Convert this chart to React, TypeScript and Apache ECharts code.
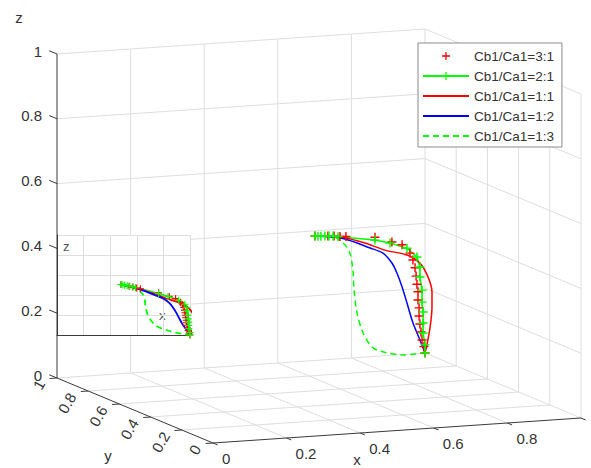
import { useEffect, useRef } from 'react';
import * as echarts from 'echarts';

const WIDTH = 591;
const HEIGHT = 468;

const FONT = '"Liberation Sans", Arial, Helvetica, sans-serif';
const GRID_COLOR = '#dedede';
const AXIS_COLOR = '#3a3a3a';
const TEXT_COLOR = '#333333';

const SERIES_NAMES = ['Cb1/Ca1=3:1', 'Cb1/Ca1=2:1', 'Cb1/Ca1=1:1', 'Cb1/Ca1=1:2', 'Cb1/Ca1=1:3'];

// Every curve runs in the diagonal plane x = y: *_XY is the shared x/y value, *_Z the height.
const R31_XY = [0.481, 0.542, 0.571, 0.599, 0.627, 0.764, 0.844, 0.892, 0.929, 0.943, 0.953, 0.958, 0.962, 0.967, 0.967, 0.972, 0.972, 0.976, 0.981, 0.986, 0.995, 1.0];
const R31_Z = [0.505, 0.488, 0.480, 0.471, 0.463, 0.423, 0.386, 0.364, 0.328, 0.303, 0.276, 0.249, 0.223, 0.198, 0.173, 0.147, 0.122, 0.096, 0.070, 0.044, 0.021, 0];

const R21_XY = [0.481, 0.495, 0.509, 0.528, 0.547, 0.566, 0.590, 0.764, 0.835, 0.915, 0.962, 0.976, 0.976, 0.986, 0.986, 0.991, 0.991, 0.991, 1.0, 1.0];
const R21_Z = [0.505, 0.501, 0.497, 0.492, 0.487, 0.482, 0.473, 0.414, 0.385, 0.347, 0.307, 0.272, 0.241, 0.198, 0.161, 0.129, 0.095, 0.064, 0.025, 0];

const R11_XY = [0.481, 0.623, 0.717, 0.811, 0.915, 0.976, 1.014, 1.033, 1.033, 1.024, 1.009, 1.0];
const R11_Z = [0.505, 0.460, 0.418, 0.370, 0.326, 0.284, 0.231, 0.179, 0.133, 0.073, 0.022, 0];

const R12_XY = [0.481, 0.613, 0.741, 0.802, 0.844, 0.868, 0.892, 0.915, 0.943, 0.976, 1.0];
const R12_Z = [0.505, 0.461, 0.396, 0.363, 0.321, 0.283, 0.234, 0.178, 0.109, 0.047, 0];

const R13_XY = [0.481, 0.575, 0.623, 0.646, 0.660, 0.665, 0.679, 0.708, 0.755, 0.821, 0.896, 1.0];
const R13_Z = [0.505, 0.475, 0.438, 0.406, 0.350, 0.290, 0.214, 0.143, 0.084, 0.050, 0.023, 0];

const X_TICKS = [0, 0.2, 0.4, 0.6, 0.8, 1];
const X_TICK_LABELS = ['0', '0.2', '0.4', '0.6', '0.8', ''];
const Y_TICKS = [0, 0.2, 0.4, 0.6, 0.8, 1];
const Y_TICK_LABELS = ['0', '0.2', '0.4', '0.6', '0.8', '1'];
const Z_TICKS = [0, 0.2, 0.4, 0.6, 0.8, 1];
const Z_TICK_LABELS = ['0', '0.2', '0.4', '0.6', '0.8', '1'];

// Orthographic view: screen position of the origin and screen step of one unit along x, y, z.
const VIEW_ORIGIN = [213, 443];
const VIEW_X = [368, -25];
const VIEW_Y = [-156, -65];
const VIEW_Z = [0, -324];

function project(x: number, y: number, z: number): [number, number] {
  return [
    VIEW_ORIGIN[0] + x * VIEW_X[0] + y * VIEW_Y[0] + z * VIEW_Z[0],
    VIEW_ORIGIN[1] + x * VIEW_X[1] + y * VIEW_Y[1] + z * VIEW_Z[1],
  ];
}

// "+" marker as a filled outline
const PLUS = 'path://M4.2,0h1.6v4.2h4.2v1.6h-4.2v4.2h-1.6v-4.2h-4.2v-1.6h4.2z';

type Seg = [number, number, number, number, number];
function seg(a: number[], b: number[], kind: number): Seg {
  const p = project(a[0], a[1], a[2]);
  const q = project(b[0], b[1], b[2]);
  return [p[0], p[1], q[0], q[1], kind];
}

function buildBox(): Seg[] {
  const s: Seg[] = [];
  // floor grid (z = 0)
  X_TICKS.slice(1).forEach((x) => s.push(seg([x, 0, 0], [x, 1, 0], 0)));
  Y_TICKS.slice(1).forEach((y) => s.push(seg([0, y, 0], [1, y, 0], 0)));
  // back wall (y = 1)
  X_TICKS.slice(1).forEach((x) => s.push(seg([x, 1, 0], [x, 1, 1], 0)));
  Z_TICKS.slice(1).forEach((z) => s.push(seg([0, 1, z], [1, 1, z], 0)));
  // side wall (x = 1)
  Y_TICKS.slice(0, -1).forEach((y) => s.push(seg([1, y, 0], [1, y, 1], 0)));
  Z_TICKS.slice(1).forEach((z) => s.push(seg([1, 0, z], [1, 1, z], 0)));
  // axis lines
  s.push(seg([0, 0, 0], [1, 0, 0], 1));
  s.push(seg([0, 0, 0], [0, 1, 0], 1));
  s.push(seg([0, 1, 0], [0, 1, 1], 1));
  // tick marks
  X_TICKS.forEach((x) => s.push(seg([x, 0, 0], [x, -0.03, 0], 1)));
  Y_TICKS.forEach((y) => s.push(seg([0, y, 0], [-0.02, y, 0], 1)));
  Z_TICKS.forEach((z) => s.push(seg([0, 1, z], [0, 1.05, z], 1)));
  return s;
}

interface Label {
  at: [number, number, number];
  text: string;
  dx: number;
  dy: number;
  align: 'left' | 'right' | 'center';
  rotate: number;
  size: number;
}

function buildLabels(): Label[] {
  const l: Label[] = [];
  X_TICKS.forEach((x, i) =>
    l.push({ at: [x, 0, 0], text: X_TICK_LABELS[i], dx: 9, dy: 15, align: 'left', rotate: 0, size: 15 })
  );
  Y_TICKS.forEach((y, i) =>
    l.push({ at: [0, y, 0], text: Y_TICK_LABELS[i], dx: -16, dy: 3, align: 'right', rotate: 60, size: 15 })
  );
  Z_TICKS.forEach((z, i) =>
    l.push({ at: [0, 1, z], text: Z_TICK_LABELS[i], dx: -15, dy: -3, align: 'right', rotate: 0, size: 15 })
  );
  l.push({ at: [0.5, 0, 0], text: 'x', dx: -40, dy: 29, align: 'center', rotate: 0, size: 15 });
  l.push({ at: [0, 0.5, 0], text: 'y', dx: -27, dy: 45, align: 'center', rotate: 0, size: 15 });
  l.push({ at: [0, 1, 1], text: 'z', dx: -38, dy: -37, align: 'center', rotate: 0, size: 15 });
  return l;
}

interface CurveDef {
  name: string;
  xy: number[];
  z: number[];
  color: string;
  markers: boolean;
  line: boolean;
  dashed: boolean;
}

const CURVES: CurveDef[] = [
  { name: SERIES_NAMES[0], xy: R31_XY, z: R31_Z, color: '#ff0000', markers: true, line: false, dashed: false },
  { name: SERIES_NAMES[1], xy: R21_XY, z: R21_Z, color: '#00ff00', markers: true, line: true, dashed: false },
  { name: SERIES_NAMES[2], xy: R11_XY, z: R11_Z, color: '#ff0000', markers: false, line: true, dashed: false },
  { name: SERIES_NAMES[3], xy: R12_XY, z: R12_Z, color: '#0000ff', markers: false, line: true, dashed: false },
  { name: SERIES_NAMES[4], xy: R13_XY, z: R13_Z, color: '#00ff00', markers: false, line: true, dashed: true },
];

function curveSeries(c: CurveDef, inset: boolean) {
  const data = inset
    ? c.xy.map((t, i) => [t, c.z[i]])
    : c.xy.map((t, i) => project(t, t, c.z[i]));
  return {
    name: c.name,
    type: 'line',
    xAxisIndex: inset ? 1 : 0,
    yAxisIndex: inset ? 1 : 0,
    data,
    symbol: c.markers ? PLUS : 'none',
    symbolSize: inset ? 7 : 9,
    showSymbol: c.markers,
    smooth: c.markers ? 0 : 0.3,
    clip: false,
    silent: true,
    z: 3,
    itemStyle: { color: c.color },
    lineStyle: {
      color: c.color,
      width: inset ? 1.8 : 1.5,
      opacity: c.line ? 1 : 0,
      type: c.dashed ? [6, 4] : 'solid',
    },
  };
}

export default function App() {
  const ref = useRef<HTMLDivElement>(null);

  useEffect(() => {
    if (!ref.current) return;
    const chart = echarts.init(ref.current, null, { renderer: 'svg' });
    const box = buildBox();
    const labels = buildLabels();

    const option = {
      animation: false,
      backgroundColor: '#ffffff',
      grid: [
        { left: 0, top: 0, width: WIDTH, height: HEIGHT, show: false },
        { left: 57, top: 235, width: 133, height: 100, show: true, backgroundColor: '#ffffff', borderWidth: 0 },
      ],
      xAxis: [
        { type: 'value', gridIndex: 0, min: 0, max: WIDTH, show: false },
        {
          type: 'value', gridIndex: 1, min: 0, max: 1, interval: 0.2,
          axisLine: { show: true, onZero: false, lineStyle: { color: AXIS_COLOR, width: 1 } },
          axisTick: { show: false },
          axisLabel: { show: false },
          splitLine: { show: true, lineStyle: { color: GRID_COLOR, width: 1 } },
        },
      ],
      yAxis: [
        { type: 'value', gridIndex: 0, min: 0, max: HEIGHT, inverse: true, show: false },
        {
          type: 'value', gridIndex: 1, min: 0, max: 1, interval: 0.2,
          axisLine: { show: true, onZero: false, lineStyle: { color: AXIS_COLOR, width: 1 } },
          axisTick: { show: false },
          axisLabel: { show: false },
          splitLine: { show: true, lineStyle: { color: GRID_COLOR, width: 1 } },
        },
      ],
      legend: {
        left: 418,
        top: 43,
        orient: 'vertical',
        itemWidth: 46,
        itemHeight: 10,
        itemGap: 6,
        padding: [6, 8, 4, 4],
        backgroundColor: '#ffffff',
        borderColor: '#8a8a8a',
        borderWidth: 1,
        borderRadius: 0,
        selectedMode: false,
        textStyle: { fontSize: 13.5, lineHeight: 14, color: TEXT_COLOR, fontFamily: FONT },
        data: CURVES.map((c) => ({
          name: c.name,
          itemStyle: c.markers ? {} : { opacity: 0 },
          lineStyle: c.line ? {} : { opacity: 0 },
        })),
      },
      graphic: [
        { type: 'text', left: 63, top: 240, silent: true, style: { text: 'z', fill: '#555', font: `13px ${FONT}` } },
        { type: 'text', left: 159, top: 309, silent: true, style: { text: 'x', fill: '#555', font: `13px ${FONT}` } },
      ],
      series: [
        {
          type: 'custom',
          name: 'box',
          xAxisIndex: 0,
          yAxisIndex: 0,
          z: -1,
          silent: true,
          clip: false,
          data: box,
          encode: { x: [0, 2], y: [1, 3] },
          renderItem: (params: any, api: any) => {
            const p1 = api.coord([api.value(0), api.value(1)]);
            const p2 = api.coord([api.value(2), api.value(3)]);
            const kind = api.value(4);
            return {
              type: 'line',
              shape: { x1: p1[0], y1: p1[1], x2: p2[0], y2: p2[1] },
              style: { stroke: kind ? AXIS_COLOR : GRID_COLOR, lineWidth: 1 },
            };
          },
        },
        {
          type: 'custom',
          name: 'labels',
          xAxisIndex: 0,
          yAxisIndex: 0,
          z: 1,
          silent: true,
          clip: false,
          data: labels.map((l) => project(l.at[0], l.at[1], l.at[2])),
          renderItem: (params: any, api: any) => {
            const l = labels[params.dataIndex];
            const c = api.coord([api.value(0), api.value(1)]);
            return {
              type: 'text',
              x: c[0] + l.dx,
              y: c[1] + l.dy,
              rotation: (l.rotate * Math.PI) / 180,
              style: {
                text: l.text,
                fill: TEXT_COLOR,
                font: `${l.size}px ${FONT}`,
                align: l.align,
                verticalAlign: 'middle',
              },
            };
          },
        },
        ...CURVES.map((c) => curveSeries(c, false)),
        ...CURVES.map((c) => curveSeries(c, true)),
      ],
    };

    chart.setOption(option as any);
    return () => chart.dispose();
  }, []);

  return (
    <div
      ref={ref}
      style={{ position: 'absolute', left: 0, top: 0, width: WIDTH, height: HEIGHT }}
    />
  );
}
